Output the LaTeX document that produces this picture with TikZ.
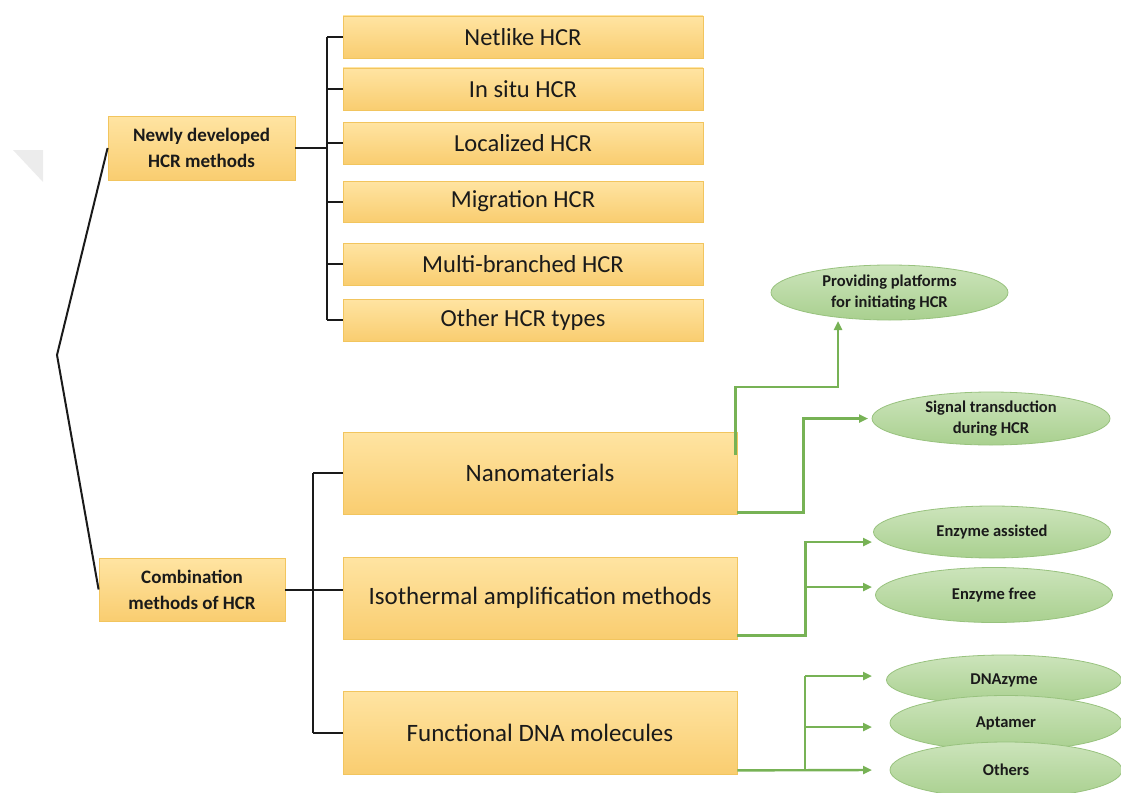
\documentclass[tikz,border=0pt]{standalone}
\usepackage{fontspec}
\setmainfont{Carlito}
\usetikzlibrary{arrows.meta,calc,shapes.geometric}

\definecolor{boxtop}{HTML}{FFE4A2}
\definecolor{boxbot}{HTML}{F9CD70}
\definecolor{boxline}{HTML}{F2C55E}
\definecolor{elltop}{HTML}{CCE4BB}
\definecolor{ellbot}{HTML}{A9D08F}
\definecolor{ellline}{HTML}{98C27E}
\definecolor{gcol}{HTML}{77B255}
\definecolor{ink}{HTML}{1A1A1A}
\definecolor{faintgray}{HTML}{ECECEC}

\begin{document}
\begin{tikzpicture}[x=1pt,y=-1pt,
  box/.style={draw=boxline, line width=0.8pt, top color=boxtop, bottom color=boxbot,
    minimum width=360pt, minimum height=42pt, inner sep=0pt,
    font=\fontsize{24.5}{28}\selectfont, text=ink},
  bigbox/.style={box, minimum width=394pt, minimum height=82pt,
    font=\fontsize{25}{29}\selectfont},
  headbox/.style={box, minimum width=187pt, minimum height=64pt,
    font=\fontsize{19}{26}\selectfont\bfseries, align=center},
  leaf/.style={ellipse, draw=ellline, line width=0.8pt, top color=elltop, bottom color=ellbot,
    inner sep=0pt, font=\fontsize{16.5}{21}\selectfont\bfseries, align=center, text=ink},
  tree/.style={draw=ink, line width=2pt},
  gpath/.style={draw=gcol, line width=2.4pt},
  garrow/.style={gpath, -{Triangle[length=9pt,width=8pt]}}
]
\useasboundingbox (0,0) rectangle (1121,792);

% faint corner mark on the left margin
\fill[faintgray] (13,150) -- (43,150) -- (43,182) -- cycle;

% main category boxes
\node[headbox] (h1) at (201.5,148) {Newly developed\\HCR methods};
\node[headbox, minimum width=186pt, minimum height=63pt] (h2) at (192,589.5) {Combination\\methods of HCR};

% newly developed methods
\node[box] (n1) at (523,37)    {Netlike HCR};
\node[box] (n2) at (523,89)    {In situ HCR};
\node[box] (n3) at (523,143)   {Localized HCR};
\node[box, minimum height=41pt] (n4) at (523,201.5) {Migration HCR};
\node[box] (n5) at (523,264)   {Multi-branched HCR};
\node[box] (n6) at (523,320)   {Other HCR types};

% combination methods
\node[bigbox] (c1) at (540,473) {Nanomaterials};
\node[bigbox] (c2) at (540,598) {Isothermal amplification methods};
\node[bigbox, minimum height=83pt] (c3) at (540,732.5) {Functional DNA molecules};

% leaves
\node[leaf, minimum width=237pt, minimum height=55pt] (e1) at (889.5,292.5) {Providing platforms\\for initiating HCR};
\node[leaf, minimum width=238pt, minimum height=53pt] (e2) at (991,418.5) {Signal transduction\\during HCR};
\node[leaf, minimum width=237pt, minimum height=52pt] (e3) at (992,532) {Enzyme assisted};
\node[leaf, minimum width=237pt, minimum height=55pt] (e4) at (994,595) {Enzyme free};
\node[leaf, minimum width=235pt, minimum height=50pt] (e5) at (1004,680) {DNAzyme};
\node[leaf, minimum width=232pt, minimum height=55pt] (e6) at (1006,723) {Aptamer};
\node[leaf, minimum width=232pt, minimum height=56pt] (e7) at (1006,770) {Others};

% black tree connectors
\coordinate (root) at (57,355);
\coordinate (s1) at (327,0);
\coordinate (s2) at (313,0);
\draw[tree] (h1.west) -- (root) -- (h2.west);
\draw[tree] (h1.east) -- (h1.east -| s1);
\draw[tree] (n1.west -| s1) -- (n6.west -| s1);
\foreach \n in {n1,n2,n3,n4,n5,n6}
  \draw[tree] (\n.west -| s1) -- (\n.west);
\draw[tree] (h2.east) -- (h2.east -| c2.west);
\draw[tree] (c1.west -| s2) -- (c3.west -| s2);
\draw[tree] (c1.west -| s2) -- (c1.west);
\draw[tree] (c3.west -| s2) -- (c3.west);

% green arrow ends and junctions
\coordinate (t1) at (838,321);
\coordinate (t2) at (868,418.5);
\coordinate (t3) at (872,542);
\coordinate (t4) at (872,587);
\coordinate (t5) at (872,676);
\coordinate (t6) at (872,727);
\coordinate (t7) at (872,770);
\coordinate (j2) at (805,0);

\draw[garrow] ($(c1.east)+(-2,-18)$) -- ++(0,-68) -| (t1);
\draw[garrow] ($(c1.south east)+(0,-2)$) -- ++(66,0) |- (t2);
\draw[garrow] ($(c2.south east)+(0,-4)$) -- ++(68,0) |- (t3);
\draw[garrow] (t4 -| j2) -- (t4);
\draw[garrow] ($(c3.south east)+(0,-4)$) -- (t7);
\draw[gpath] (t7 -| j2) -- (t5 -| j2);
\draw[garrow] (t5 -| j2) -- (t5);
\draw[garrow] (t6 -| j2) -- (t6);
\end{tikzpicture}
\end{document}
